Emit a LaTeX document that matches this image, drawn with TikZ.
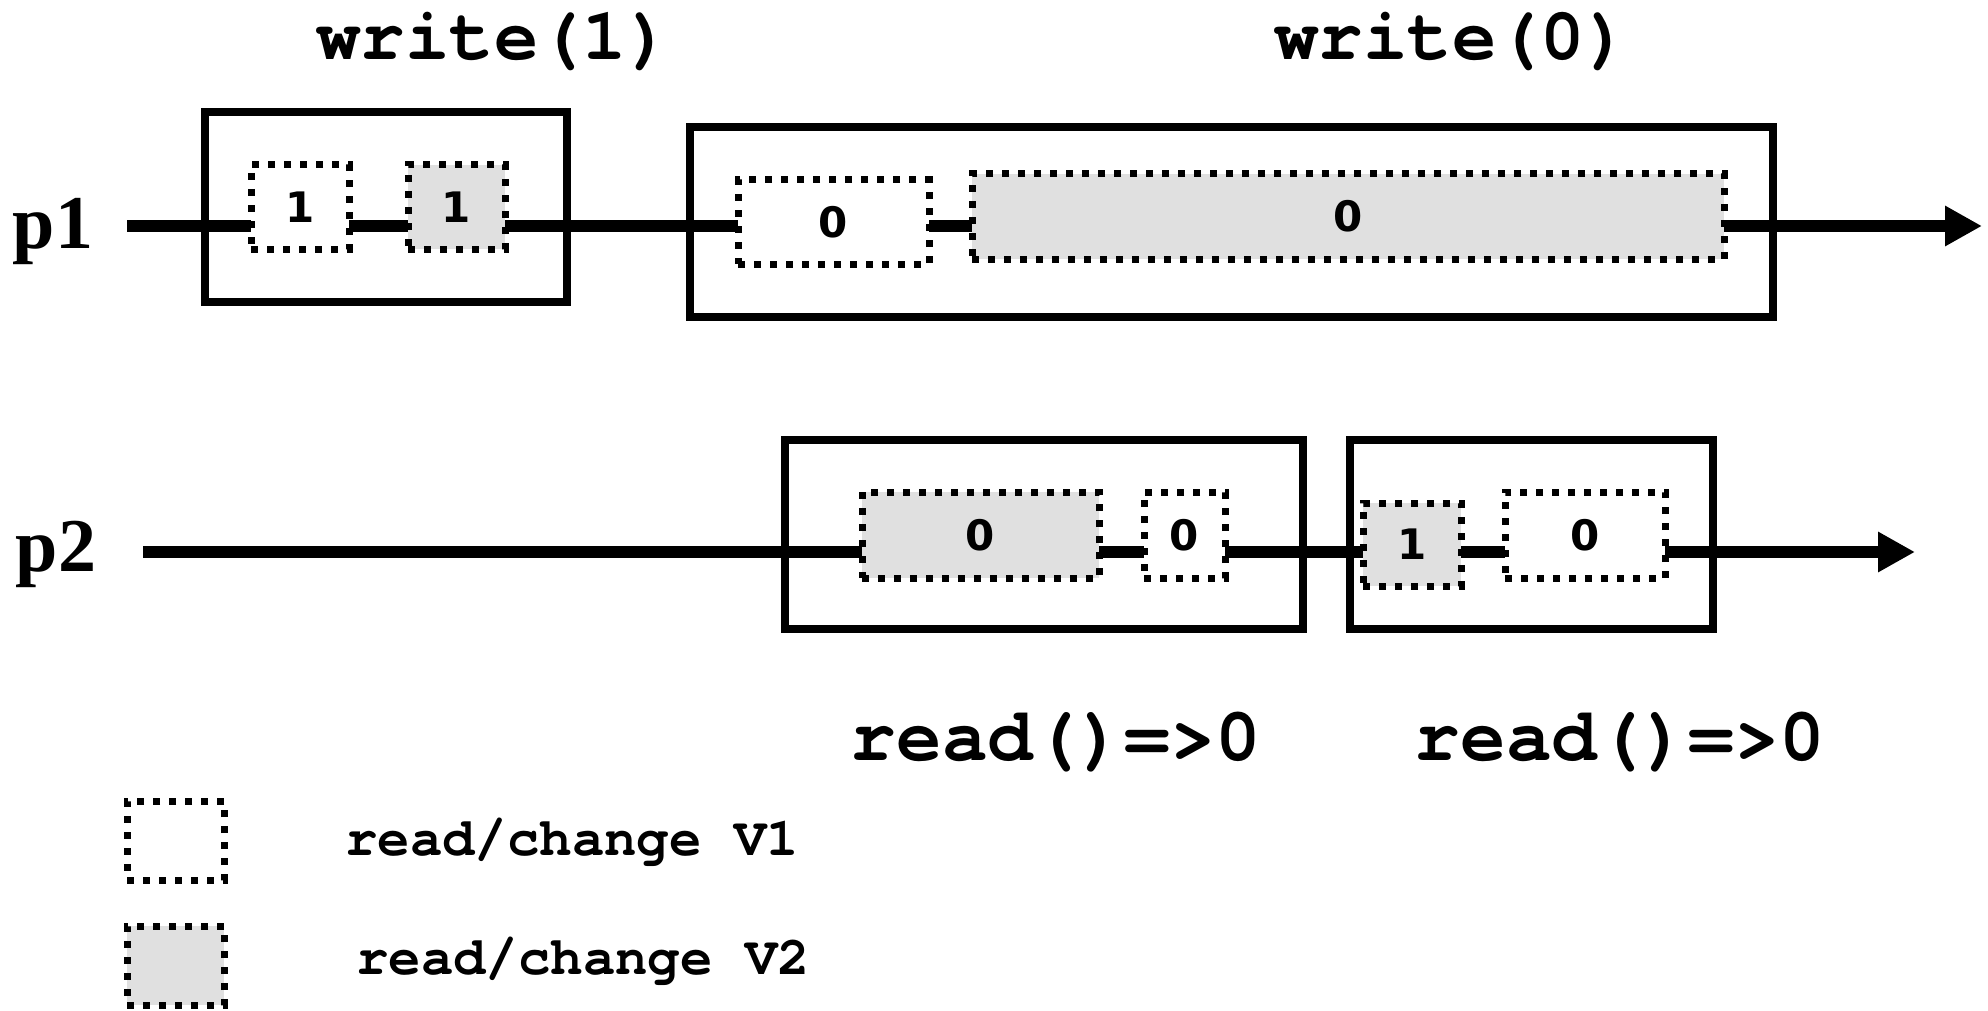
\documentclass[tikz,border=0pt]{standalone}
\usepackage{fontspec}
\usetikzlibrary{arrows.meta}
\newfontfamily\monof{texgyrecursor}[Extension=.otf, UprightFont=*-regular, BoldFont=*-bold]
\newfontfamily\seriff{Liberation Serif}
\newfontfamily\sansf{DejaVu Sans}
\definecolor{vgray}{HTML}{E0E0E0}
\tikzset{
  opbox/.style={draw=black, line width=3.75pt, rectangle, inner sep=0pt, outer sep=0pt},
  vbox/.style={draw=black, line width=3.5pt, dash pattern=on 3.5pt off 4.5pt, rectangle, inner sep=0pt, outer sep=0pt, font=\sansf\bfseries\fontsize{21}{24}\selectfont},
  vone/.style={vbox, fill=white},
  vtwo/.style={vbox, fill=vgray},
  tline/.style={line width=6pt},
  tarrow/.style={line width=6pt, -{Triangle[length=18.5pt, width=19pt]}},
  oplabel/.style={font=\monof\bfseries\fontsize{37}{40}\selectfont, inner sep=0pt},
  rdlabel/.style={font=\monof\bfseries\fontsize{38}{40}\selectfont, inner sep=0pt},
  leglabel/.style={font=\monof\bfseries\fontsize{27}{30}\selectfont, inner sep=0pt},
  proc/.style={font=\seriff\bfseries\fontsize{38}{40}\selectfont, inner sep=0pt},
}
\begin{document}
\begin{tikzpicture}[x=0.5pt, y=-0.5pt]
\useasboundingbox (0,0) rectangle (1988,1011);
% operation boxes
\node[opbox, minimum width=181pt, minimum height=95pt] (W1) at (386,207) {};
\node[opbox, minimum width=541.5pt, minimum height=95pt] (W0) at (1231.5,222) {};
\node[opbox, minimum width=259pt, minimum height=94.5pt] (R1) at (1044,534.5) {};
\node[opbox, minimum width=181.5pt, minimum height=94.5pt] (R2) at (1531.5,534.5) {};
% labels
\node[oplabel] (lw1) at (494,41) {write(1)};
\node[oplabel] (lw0) at (1452,41) {write(0)};
\node[rdlabel] (lr1) at (1056,742) {read()=>0};
\node[rdlabel] (lr2) at (1620,742) {read()=>0};
\node[proc] (p1) at (53,232) {p1};
\node[proc] (p2) at (56,554) {p2};
% timeline anchors
\coordinate (s1) at (127,226);
\coordinate (e1) at (1982,226);
\coordinate (s2) at (143,552);
\coordinate (e2) at (1915,552);
% value boxes p1
\node[vone, minimum width=49pt, minimum height=42pt] (a) at (300,207) {1};
\node[vtwo, minimum width=48.5pt, minimum height=42pt] (b) at (456.5,207) {1};
\node[vone, minimum width=95.5pt, minimum height=42pt] (c) at (833.5,222) {0};
\node[vtwo, minimum width=376pt, minimum height=42.5pt] (d) at (1348,216.5) {0};
% value boxes p2
\node[vtwo, minimum width=118.5pt, minimum height=43pt] (e) at (980.5,535) {0};
\node[vone, minimum width=40.5pt, minimum height=43pt] (f) at (1184.5,535) {0};
\node[vtwo, minimum width=49pt, minimum height=41.5pt] (g) at (1412,544.5) {1};
\node[vone, minimum width=80pt, minimum height=43pt] (h) at (1585,535) {0};
% timelines p1
\draw[tline] (s1) -- (a.west |- s1);
\draw[tline] (a.east |- s1) -- (b.west |- s1);
\draw[tline] (b.east |- s1) -- (c.west |- s1);
\draw[tline] (c.east |- s1) -- (d.west |- s1);
\draw[tarrow] (d.east |- s1) -- (e1);
% timelines p2
\draw[tline] (s2) -- (e.west |- s2);
\draw[tline] (e.east |- s2) -- (f.west |- s2);
\draw[tline] (f.east |- s2) -- (g.west |- s2);
\draw[tline] (g.east |- s2) -- (h.west |- s2);
\draw[tarrow] (h.east |- s2) -- (e2);
% legend
\node[vone, minimum width=48.5pt, minimum height=39.5pt] (L1) at (175.5,840.5) {};
\node[vtwo, minimum width=48.5pt, minimum height=39.5pt] (L2) at (175.5,965.5) {};
\node[leglabel] (t1) at (572,842) {read/change V1};
\node[leglabel] (t2) at (583,961) {read/change V2};
\end{tikzpicture}
\end{document}
